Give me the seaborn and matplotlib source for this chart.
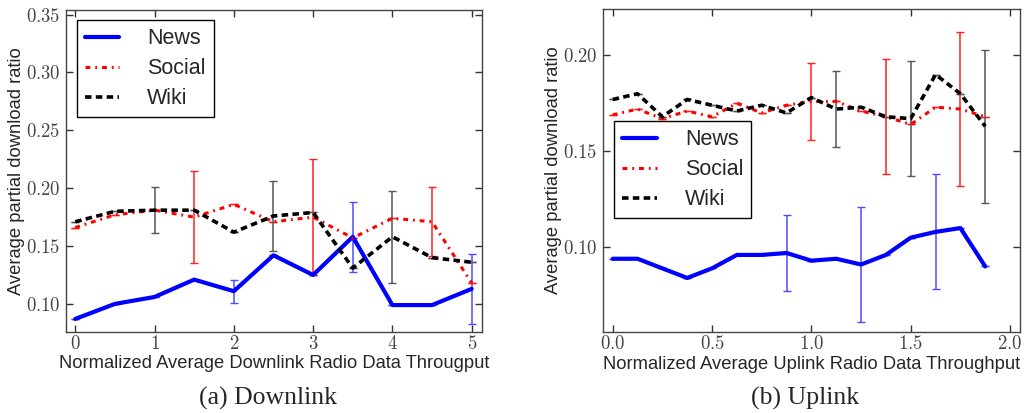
import numpy as np
import pandas as pd
import seaborn as sns
import matplotlib
matplotlib.use("Agg")
import matplotlib.pyplot as plt
from matplotlib.ticker import FuncFormatter, MultipleLocator

# %% Data
series = ["News", "Social", "Wiki"]

dl_x = [0, 0.5, 1, 1.5, 2, 2.5, 3, 3.5, 4, 4.5, 5]
dl_news = [0.087, 0.100, 0.106, 0.121, 0.111, 0.142, 0.125, 0.158, 0.099, 0.099, 0.113]
dl_social = [0.166, 0.177, 0.181, 0.175, 0.186, 0.171, 0.175, 0.157, 0.174, 0.171, 0.118]
dl_wiki = [0.171, 0.180, 0.181, 0.181, 0.162, 0.176, 0.179, 0.131, 0.158, 0.140, 0.136]
dl_news_err = [0, 0, 0, 0, 0.010, 0, 0, 0.030, 0, 0, 0.030]
dl_social_err = [0, 0, 0, 0.040, 0, 0, 0.050, 0, 0, 0.030, 0]
dl_wiki_err = [0, 0, 0.020, 0, 0, 0.030, 0, 0, 0.040, 0, 0]

ul_x = [0, 0.125, 0.25, 0.375, 0.5, 0.625, 0.75, 0.875,
        1.0, 1.125, 1.25, 1.375, 1.5, 1.625, 1.75, 1.875]
ul_news = [0.094, 0.094, 0.089, 0.084, 0.089, 0.096, 0.096, 0.097,
           0.093, 0.094, 0.091, 0.096, 0.105, 0.108, 0.110, 0.090]
ul_social = [0.169, 0.172, 0.167, 0.171, 0.168, 0.175, 0.170, 0.174,
             0.176, 0.176, 0.171, 0.168, 0.164, 0.173, 0.172, 0.168]
ul_wiki = [0.177, 0.180, 0.168, 0.177, 0.174, 0.171, 0.174, 0.170,
           0.178, 0.172, 0.173, 0.168, 0.167, 0.190, 0.180, 0.163]
ul_news_err = [0, 0, 0, 0, 0, 0, 0, 0.020, 0, 0, 0.030, 0, 0, 0.030, 0, 0]
ul_social_err = [0, 0, 0, 0, 0, 0, 0, 0, 0.020, 0, 0, 0.030, 0, 0, 0.040, 0]
ul_wiki_err = [0, 0, 0, 0, 0, 0, 0, 0, 0, 0.020, 0, 0, 0.030, 0, 0, 0.040]

# %% Style
sns.set_style("ticks")
plt.rcParams["font.family"] = ["Liberation Sans", "DejaVu Sans"]
plt.rcParams["mathtext.fontset"] = "cm"

line_kw = {
    "News": dict(color="#0000ff", lw=3.0, linestyle="-"),
    "Social": dict(color="#ff0000", lw=2.2, linestyle=(0, (1.6, 1.6, 0.6, 1.6))),
    "Wiki": dict(color="#000000", lw=2.6, linestyle=(0, (1.8, 1.2))),
}
err_color = {"News": "#4d4dff", "Social": "#ff2020", "Wiki": "#555555"}

fig = plt.figure(figsize=(10.24, 4.13), dpi=100)
ax1 = fig.add_axes([0.0642, 0.1969, 0.4065, 0.7789])
ax2 = fig.add_axes([0.5892, 0.1969, 0.4069, 0.7806])


def draw_panel(ax, x, ys, errs):
    for name, y, e in zip(series, ys, errs):
        sns.lineplot(x=x, y=y, ax=ax, label=name, **line_kw[name])
    for name, y, e in zip(series, ys, errs):
        ax.errorbar(x, y, yerr=e, fmt="none", ecolor=err_color[name],
                    elinewidth=1.1, capsize=3, capthick=1.0, zorder=1.5)


draw_panel(ax1, dl_x, [dl_news, dl_social, dl_wiki],
           [dl_news_err, dl_social_err, dl_wiki_err])
draw_panel(ax2, ul_x, [ul_news, ul_social, ul_wiki],
           [ul_news_err, ul_social_err, ul_wiki_err])

ax1.set_xlim(-0.12, 5.13)
ax1.set_ylim(0.076, 0.354)
ax1.xaxis.set_major_locator(MultipleLocator(1))
ax1.yaxis.set_major_locator(MultipleLocator(0.05))
ax1.xaxis.set_major_formatter(FuncFormatter(lambda v, p: f"${v:.0f}$"))

ax2.set_xlim(-0.047, 2.05)
ax2.set_ylim(0.056, 0.224)
ax2.xaxis.set_major_locator(MultipleLocator(0.5))
ax2.yaxis.set_major_locator(MultipleLocator(0.05))
ax2.xaxis.set_major_formatter(FuncFormatter(lambda v, p: f"${v:.1f}$"))

for ax in (ax1, ax2):
    ax.yaxis.set_major_formatter(FuncFormatter(lambda v, p: f"${v:.2f}$"))
    ax.tick_params(direction="in", top=True, right=True, length=5, width=1,
                   labelsize=13.5, labelcolor="#444444", color="#333333", pad=4)
    ax.tick_params(axis="x", pad=2.5)
    for s in ax.spines.values():
        s.set_color("#444444")
        s.set_linewidth(1.0)
    ax.set_ylabel("Average partial download ratio", fontsize=13.2)

ax1.set_xlabel("Normalized Average Downlink Radio Data Througput", fontsize=13.2)
ax2.set_xlabel("Normalized Average Uplink Radio Data Throughput", fontsize=13.2)
ax1.yaxis.set_label_coords(-0.097, 0.5)
ax2.yaxis.set_label_coords(-0.0998, 0.5)
ax1.xaxis.set_label_coords(0.5, -0.074)
ax2.xaxis.set_label_coords(0.5, -0.075)

leg_kw = dict(loc="upper left", fontsize=15.5, fancybox=False, framealpha=1,
              edgecolor="black", handlelength=1.6, handletextpad=1.3,
              labelspacing=0.42, borderpad=0.38, borderaxespad=0)
l1 = ax1.legend(bbox_to_anchor=(0.026, 0.969), **leg_kw)
l2 = ax2.legend(bbox_to_anchor=(0.026, 0.6535), **leg_kw)
for leg in (l1, l2):
    leg.get_frame().set_linewidth(1.0)

fig.text(0.262, 0.036, "(a) Downlink", ha="center", va="center",
         family="Liberation Serif", fontsize=18.5)
fig.text(0.786, 0.036, "(b) Uplink", ha="center", va="center",
         family="Liberation Serif", fontsize=18.5)

fig.savefig("out.png", dpi=100)
